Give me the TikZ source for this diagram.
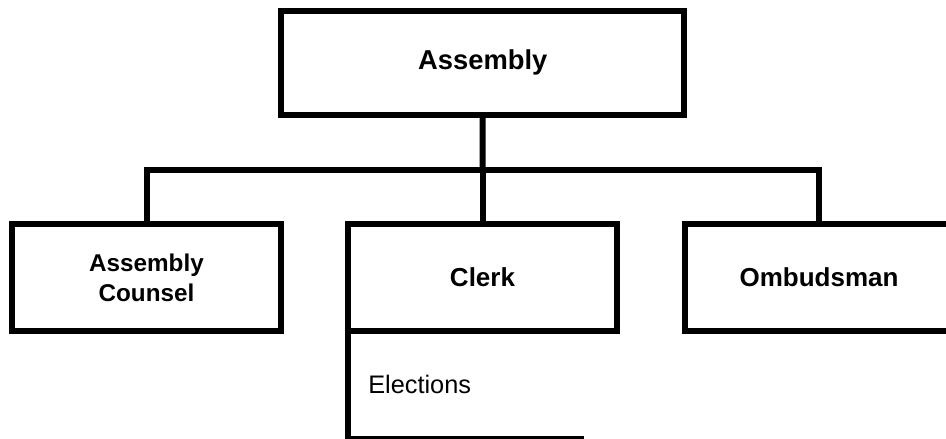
\documentclass[tikz,border=0pt]{standalone}
\usepackage{fontspec}
\setmainfont{Liberation Sans}
\usepackage{tikz}
\usetikzlibrary{positioning}

\begin{document}
\begin{tikzpicture}[x=0.75pt, y=-0.75pt,
    office/.style={draw=black, line width=4.5pt, rectangle, inner sep=0pt, outer sep=0pt,
      minimum width=201.75pt, minimum height=80.25pt, align=center,
      font=\bfseries\fontsize{19.5}{22.5}\selectfont},
    link/.style={draw=black, line width=4.5pt}]
  \useasboundingbox (0,0) rectangle (946,439);
  \clip (0,0) rectangle (946,439);

  % top office
  \node[office, minimum width=302pt, minimum height=78pt,
        font=\bfseries\fontsize{20.5}{24}\selectfont] (assembly) at (482.75,62.5) {Assembly};

  % the three offices below
  \node[office, font=\bfseries\fontsize{18.2}{22.5}\selectfont] (counsel) at (146.5,277.5) {Assembly\\Counsel};
  \node[office] (clerk) at (482.5,277.5) {Clerk};
  \node[office] (ombudsman) at (819,277.5) {Ombudsman};

  % connectors
  \coordinate (bus) at (482.5,170);
  \draw[link] (assembly.south) -- (bus);
  \draw[link] (counsel.north) |- (bus) -| (ombudsman.north);
  \draw[link] (bus) -- (clerk.north);

  % unit under the clerk
  \node[anchor=base west, inner sep=0pt, font=\fontsize{19}{22}\selectfont] (elections) at (368,393) {Elections};
  \coordinate (elecend) at (581,439);
  \draw[link, line cap=rect] (clerk.south west) |- (elecend);
\end{tikzpicture}
\end{document}
